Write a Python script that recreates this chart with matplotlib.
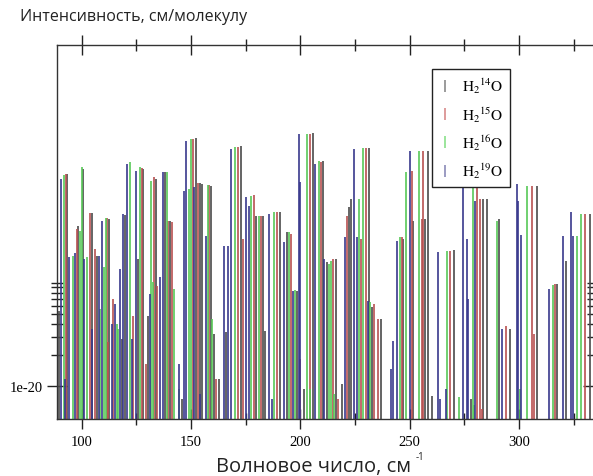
import matplotlib
matplotlib.use("Agg")
import matplotlib.pyplot as plt
from matplotlib.lines import Line2D
from matplotlib.ticker import FixedLocator, FixedFormatter, NullFormatter

plt.rcParams["mathtext.fontset"] = "stix"

# line positions (cm^-1) and intensities (cm/molecule)
nu_14 = [89.8, 93.5, 98.5, 100.6, 104.5, 107.0, 112.3, 119.8, 125.8, 128.0,
         130.3, 133.8, 138.1, 140.4, 152.3, 154.1, 155.0, 159.2, 160.5, 162.8,
         166.0, 172.9, 179.7, 182.9, 183.9, 190.7, 193.9, 198.5, 205.8, 210.4,
         212.2, 216.3, 219.1, 222.3, 223.2, 231.4, 232.8, 236.9, 247.0, 251.6,
         257.1, 258.4, 260.3, 270.3, 283.6, 285.4, 290.9, 295.9, 308.3, 317.4,
         321.6, 332.5, 118.4, 146.0, 201.7, 278.1]
s_14 = [5.31e-20, 1.14e-18, 3.55e-19, 1.27e-18, 4.75e-19, 1.82e-19, 4.15e-19, 4.54e-19, 1.70e-19, 1.27e-18,
        4.75e-20, 1.02e-18, 1.19e-18, 3.97e-19, 2.54e-18, 9.30e-19, 9.08e-19, 8.69e-19, 3.18e-20, 1.16e-20,
        3.32e-20, 2.12e-18, 4.44e-19, 4.44e-19, 3.40e-20, 4.86e-19, 3.11e-19, 8.30e-20, 2.84e-18, 1.52e-18,
        1.59e-19, 1.70e-19, 1.04e-20, 5.43e-19, 6.50e-19, 2.03e-18, 5.81e-20, 4.44e-20, 2.66e-19, 3.97e-19,
        4.15e-19, 1.90e-18, 7.94e-21, 2.08e-19, 6.50e-19, 6.50e-19, 4.15e-19, 3.55e-20, 8.69e-19, 9.70e-20,
        1.62e-19, 4.65e-19, 2.84e-20, 7.40e-21, 9.30e-21, 7.40e-21]

nu_15 = [88.9, 92.8, 97.8, 103.6, 106.1, 111.6, 112.0, 123.5, 127.6, 133.1,
         134.4, 139.5, 141.3, 150.9, 153.2, 158.2, 161.4, 171.5, 173.8, 178.8,
         182.0, 189.3, 195.8, 204.4, 209.5, 215.0, 221.4, 227.8, 230.1, 233.7,
         235.6, 246.5, 251.1, 255.7, 256.1, 268.5, 280.8, 282.2, 294.1, 306.0,
         306.9, 316.5, 330.3, 114.3, 129.4, 199.9, 217.3, 283.0]
s_15 = [5.55e-20, 1.14e-18, 3.32e-19, 4.75e-19, 2.12e-19, 4.25e-19, 2.66e-20, 4.75e-20, 1.30e-18, 1.06e-18,
        9.30e-20, 3.97e-19, 3.88e-19, 2.48e-18, 9.30e-19, 8.89e-19, 1.16e-20, 2.08e-18, 2.66e-19, 7.10e-19,
        4.44e-19, 4.86e-19, 2.97e-19, 2.78e-18, 1.49e-18, 1.70e-19, 4.44e-19, 2.66e-19, 2.03e-18, 6.21e-20,
        4.44e-20, 2.78e-19, 1.21e-18, 4.15e-19, 1.90e-18, 2.03e-19, 1.59e-18, 6.50e-19, 3.80e-20, 8.69e-19,
        3.18e-20, 9.70e-20, 4.65e-19, 6.95e-20, 1.62e-20, 1.82e-20, 7.40e-21, 5.90e-21]

nu_16 = [92.1, 96.0, 99.2, 100.1, 102.4, 110.2, 110.9, 116.1, 122.1, 126.7,
         131.7, 132.6, 139.0, 142.2, 149.1, 150.0, 157.6, 159.6, 170.1, 177.5,
         181.1, 188.0, 194.8, 197.6, 203.1, 208.6, 213.1, 214.1, 226.9, 228.7,
         231.9, 245.6, 248.4, 254.3, 267.1, 272.6, 279.0, 290.0, 303.7, 315.6,
         326.6, 328.4, 108.4, 116.6, 144.6, 204.5, 215.5, 279.5, 300.5]
s_16 = [1.11e-18, 1.82e-19, 3.18e-19, 1.33e-18, 1.78e-19, 1.42e-19, 4.25e-19, 3.97e-20, 1.49e-18, 1.33e-18,
        9.70e-19, 1.02e-19, 1.19e-18, 8.69e-20, 8.12e-19, 2.48e-18, 8.89e-19, 4.44e-20, 2.08e-18, 6.95e-19,
        4.44e-19, 4.86e-19, 3.11e-19, 8.50e-20, 2.78e-18, 1.52e-18, 1.52e-19, 1.62e-19, 6.50e-19, 2.03e-18,
        6.50e-20, 2.78e-19, 1.19e-18, 1.90e-18, 2.03e-19, 7.77e-21, 1.59e-18, 3.97e-19, 8.69e-19, 9.50e-20,
        2.84e-19, 4.65e-19, 5.55e-20, 3.55e-20, 9.30e-21, 9.30e-21, 8.30e-21, 6.50e-21, 9.30e-21]

nu_19 = [90.5, 94.2, 96.9, 101.1, 107.9, 109.3, 113.9, 117.5, 118.9, 120.7,
         124.8, 131.2, 135.8, 137.2, 144.5, 146.8, 147.7, 151.4, 156.9, 165.1,
         166.9, 168.3, 175.2, 176.5, 185.7, 192.6, 196.7, 199.4, 199.9, 206.7,
         210.9, 220.5, 224.6, 226.0, 231.0, 241.5, 242.4, 244.3, 250.2, 263.0,
         266.7, 274.4, 276.3, 276.7, 279.9, 292.3, 299.2, 299.6, 301.0, 313.8,
         320.2, 323.9, 324.8, 92.4, 104.7, 115.2, 123.0, 154.1, 187.1, 264.0]
s_19 = [1.02e-18, 1.78e-19, 1.94e-19, 1.70e-19, 1.82e-19, 3.97e-19, 3.97e-20, 1.36e-19, 4.65e-19, 1.42e-18,
        1.21e-18, 7.77e-20, 1.14e-19, 1.19e-18, 1.62e-20, 7.77e-19, 2.37e-18, 8.50e-19, 2.84e-19, 2.27e-19,
        2.27e-19, 1.99e-18, 6.79e-19, 5.56e-19, 4.65e-19, 2.48e-19, 8.30e-20, 2.78e-18, 9.50e-19, 1.42e-18,
        1.70e-19, 2.78e-19, 1.99e-18, 2.78e-19, 6.64e-20, 1.45e-20, 2.72e-20, 2.54e-19, 1.90e-18, 1.99e-19,
        9.30e-21, 1.99e-18, 2.66e-19, 6.95e-20, 6.21e-19, 3.55e-20, 9.08e-19, 6.21e-19, 2.90e-19, 8.69e-20,
        2.84e-19, 4.86e-19, 2.84e-19, 1.16e-20, 3.55e-20, 6.21e-20, 2.84e-20, 8.30e-21, 7.40e-21, 7.40e-21]

labels = [r"$\mathrm{H_2{}^{14}O}$", r"$\mathrm{H_2{}^{15}O}$",
          r"$\mathrm{H_2{}^{16}O}$", r"$\mathrm{H_2{}^{19}O}$"]
colors = ["#4a4a4a", "#b85050", "#58c858", "#38388c"]
legend_colors = ["#8a8a8a", "#d88a8a", "#8ae08a", "#8a8ab8"]

x_ticks = [100, 150, 200, 250, 300]
x_minor = [125, 175, 225, 275, 325]
y_minor = [2e-20, 3e-20, 4e-20, 5e-20, 6e-20, 7e-20, 8e-20, 9e-20, 1e-19]

W, H = 593, 477
fig = plt.figure(figsize=(W / 100, H / 100), dpi=100)
ax = fig.add_axes([57 / W, 1 - 420 / H, 1 - 57 / W, (420 - 46) / H])

for nu, s, c in zip([nu_14, nu_15, nu_16, nu_19], [s_14, s_15, s_16, s_19], colors):
    ax.vlines(nu, 1e-22, s, colors=c, lw=1.2)

ax.set_yscale("log")
ax.set_xlim(88.7, 333.9)
ax.set_ylim(4.75e-21, 2.03e-17)

for side in ["left", "top", "bottom"]:
    ax.spines[side].set_color("#333333")
    ax.spines[side].set_linewidth(1.0)
ax.spines["right"].set_visible(False)

ax.xaxis.set_major_locator(FixedLocator(x_ticks))
ax.xaxis.set_minor_locator(FixedLocator(x_minor))
ax.yaxis.set_major_locator(FixedLocator([1e-20]))
ax.yaxis.set_major_formatter(FixedFormatter(["1e-20"]))
ax.yaxis.set_minor_locator(FixedLocator(y_minor))
ax.yaxis.set_minor_formatter(NullFormatter())

ax.tick_params(axis="x", which="major", direction="inout", length=15, width=1,
               top=True, bottom=True, color="#222222", pad=4,
               labelsize=10.5, labelfontfamily="Liberation Serif")
ax.tick_params(axis="x", which="minor", direction="inout", length=9, width=1,
               top=True, bottom=True, color="#222222")
ax.tick_params(axis="y", which="major", direction="inout", length=15, width=1,
               left=True, right=True, color="#222222", pad=3,
               labelsize=10.5, labelfontfamily="Liberation Serif")
ax.tick_params(axis="y", which="minor", direction="inout", length=8, width=1,
               left=True, right=True, color="#222222")

handles = [Line2D([], [], color=c, marker="|", linestyle="None", markersize=8, markeredgewidth=1.2)
           for c in legend_colors]
leg = ax.legend(handles, labels, loc="upper left",
                bbox_to_anchor=(432 / W, 1 - 70 / H), bbox_transform=fig.transFigure,
                fancybox=False, framealpha=1, edgecolor="#222222", borderaxespad=0,
                handlelength=0.8, handletextpad=0.7, labelspacing=0.58,
                borderpad=0.45, prop={"size": 11})
leg.get_frame().set_linewidth(1.0)

fig.text(20 / W, 1 - 17 / H, "Интенсивность, см/молекулу", ha="left", va="center",
         fontsize=11.5, family="Open Sans", color="#222222")
xl = fig.text(216 / W, 1 - 467 / H, "Волновое число, см", ha="left", va="center",
              fontsize=14.5, family="Open Sans", color="#222222")
bb = xl.get_window_extent(renderer=fig.canvas.get_renderer())
fig.text((bb.x1 + 5) / W, 1 - 458 / H, "-1", ha="left", va="center",
         fontsize=7, family="Open Sans", color="#222222")

fig.savefig("out.png", dpi=100)
